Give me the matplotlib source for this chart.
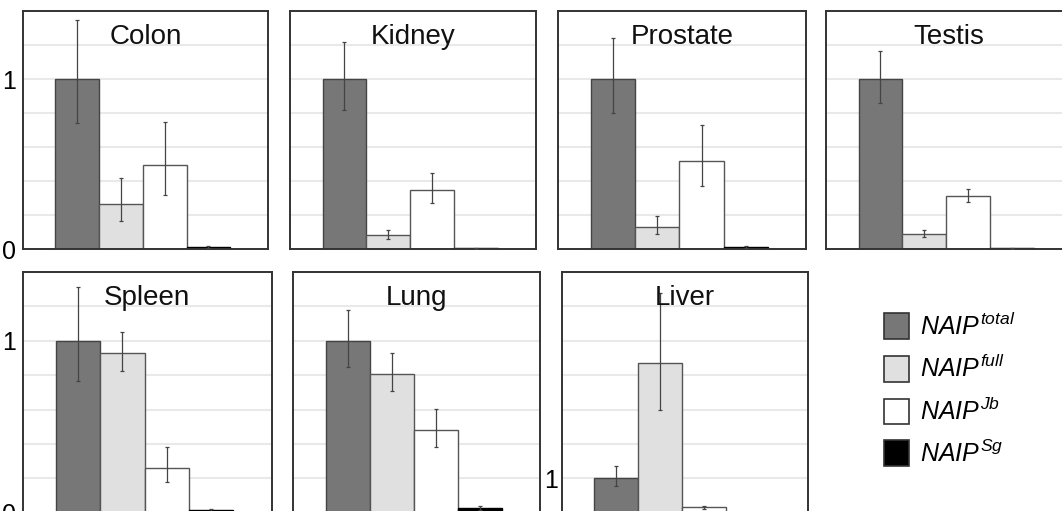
import matplotlib
matplotlib.use("Agg")
import matplotlib.pyplot as plt
from matplotlib.patches import Patch
import numpy as np

plt.rcParams['font.family'] = ['Liberation Sans', 'DejaVu Sans']
plt.rcParams['mathtext.fontset'] = 'custom'
plt.rcParams['mathtext.rm'] = 'Liberation Sans'
plt.rcParams['mathtext.it'] = 'Liberation Sans:italic'

# Daten (relative Expression)
tissues = ['Colon', 'Kidney', 'Prostate', 'Testis', 'Spleen', 'Lung', 'Liver']
isoforms = ['total', 'full', 'Jb', 'Sg']

total = [1.0, 1.0, 1.0, 1.0, 1.0, 1.0, 1.0]
full = [0.267, 0.08, 0.129, 0.088, 0.927, 0.806, 4.36]
jb = [0.493, 0.349, 0.52, 0.314, 0.262, 0.481, 0.157]
sg = [0.012, 0.005, 0.012, 0.003, 0.016, 0.026, 0.02]

# Fehlerbalken: untere / obere Grenze
total_lo = [0.74, 0.817, 0.80, 0.858, 0.766, 0.849, 0.785]
total_hi = [1.345, 1.218, 1.24, 1.164, 1.31, 1.178, 1.37]
full_lo = [0.165, 0.057, 0.086, 0.068, 0.826, 0.708, 2.99]
full_hi = [0.417, 0.111, 0.197, 0.111, 1.05, 0.93, 6.38]
jb_lo = [0.32, 0.273, 0.368, 0.279, 0.178, 0.38, 0.12]
jb_hi = [0.75, 0.446, 0.731, 0.351, 0.38, 0.603, 0.2]
sg_lo = [0.005, 0.002, 0.006, 0.001, 0.01, 0.015, 0.01]
sg_hi = [0.02, 0.008, 0.02, 0.005, 0.022, 0.04, 0.03]

colors = ['#777777', '#e0e0e0', '#ffffff', '#000000']
edges = ['#444444', '#555555', '#555555', '#000000']

W, H = 1062, 511
fig = plt.figure(figsize=(W / 100, H / 100), dpi=100)

# Achsenpositionen in Pixeln: links, oben, breite, hoehe
boxes = [
    (22.7, 11, 245.3, 238),
    (290, 11, 246, 238),
    (558.3, 11, 247.7, 238),
    (826, 11, 246, 238),
    (22.7, 272, 249, 240.7),
    (293.3, 272, 246.7, 240.7),
    (561.7, 272, 246, 240.7),
]

values = [total, full, jb, sg]
lows = [total_lo, full_lo, jb_lo, sg_lo]
highs = [total_hi, full_hi, jb_hi, sg_hi]

for i, name in enumerate(tissues):
    l, t, w, h = boxes[i]
    ax = fig.add_axes([l / W, (H - t - h) / H, w / W, h / H])
    liver = (name == 'Liver')
    top = 7.0 if liver else 1.4
    step = 1.0 if liver else 0.2
    ax.set_ylim(0, top)
    ax.set_xlim(-1.24, 4.36)
    for g in np.arange(step, top + 1e-9, step):
        ax.axhline(g, color='#e9e9e9', lw=1.5, zorder=0)

    x = np.arange(4)
    v = [values[k][i] for k in range(4)]
    lo = [v[k] - lows[k][i] for k in range(4)]
    hi = [highs[k][i] - v[k] for k in range(4)]
    ax.bar(x, v, width=1.0, color=colors, edgecolor=edges, linewidth=1.0, zorder=2)
    ax.errorbar(x, v, yerr=[lo, hi], fmt='none', ecolor='#444444',
                elinewidth=0.9, capsize=1.5, capthick=0.9, zorder=3)

    ax.text(0.5, 1 - 33 / h, name, transform=ax.transAxes, ha='center',
            va='baseline', fontsize=20, color='#111111', zorder=4)

    ax.set_xticks([])
    if liver:
        ax.set_yticks([1])
        ax.set_yticklabels(['1'])
        ax.tick_params(axis='y', length=0, pad=3, labelsize=18)
    elif name in ('Colon', 'Spleen'):
        ax.set_yticks([0, 1])
        ax.set_yticklabels(['0', '1'])
        ax.tick_params(axis='y', length=0, pad=5, labelsize=18)
    else:
        ax.set_yticks([])
    for s in ax.spines.values():
        s.set_color('#333333')
        s.set_linewidth(1.4)

handles = [Patch(facecolor=c, edgecolor='#333333', linewidth=1.2) for c in colors]
labels = [r'$NAIP^{%s}$' % s for s in isoforms]
fig.legend(handles, labels, loc='upper left',
           bbox_to_anchor=(871 / W, 1 - 300 / H), frameon=False,
           fontsize=18, handlelength=1.0, handleheight=1.2,
           handletextpad=0.45, labelspacing=0.62, borderpad=0)

fig.savefig('out.png', dpi=100)
